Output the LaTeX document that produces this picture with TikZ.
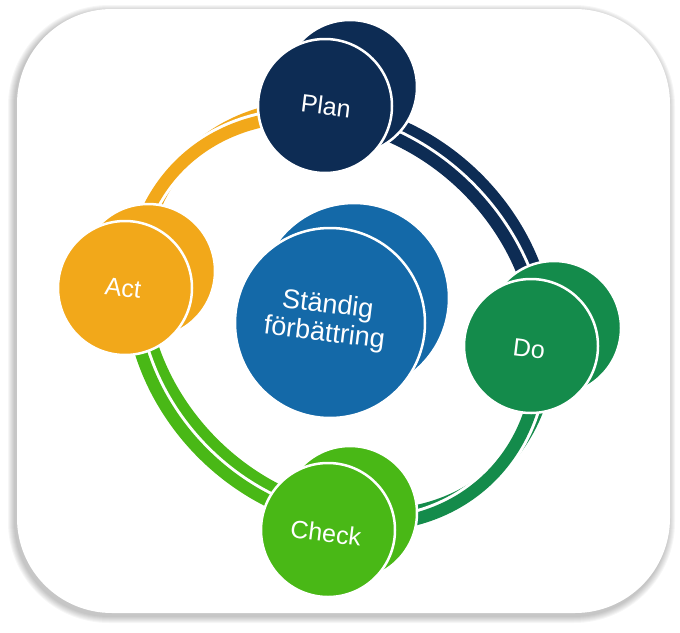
\documentclass[tikz,border=0pt]{standalone}
\usepackage{fontspec}
\setmainfont{Liberation Sans}
\definecolor{cnavy}{HTML}{0D2C54}
\definecolor{cdgreen}{HTML}{148B4B}
\definecolor{clgreen}{HTML}{49B816}
\definecolor{corange}{HTML}{F2A81A}
\definecolor{cblue}{HTML}{1469A8}
\begin{document}
\begin{tikzpicture}[x=1pt,y=-1pt,
  declare function={ringx(\t)=335+220*cos(\t)*0.7071+187*sin(\t)*0.7071;
                    ringy(\t)=321+220*cos(\t)*0.7071-187*sin(\t)*0.7071;},
  band/.style={line width=12.5pt},
  bandedge/.style={white, line width=18.5pt},
  face/.style={draw=white, line width=2.5pt},
  lbl/.style={text=white, inner sep=0pt, rotate=-7, font=\fontsize{25}{25}\selectfont}
]
\useasboundingbox (0,0) rectangle (680,632);
% card with soft shadow
\foreach \k [evaluate=\k as \r using 94+\k] in {1,...,7}
  \fill[black, opacity=0.035, rounded corners=\r pt] (15-\k,12-\k) rectangle (668+\k,616+\k);
\fill[white, rounded corners=95pt] (17,9) rectangle (670,613);
% back ring (shifted up-right)
\foreach \c/\a/\b in {cnavy/38/135, cdgreen/-45/38, clgreen/-142/-45, corange/135/218}
  \draw[\c, band] plot[domain=\a:\b, samples=60, smooth] ({ringx(\x)+10},{ringy(\x)-10});
% front ring
\foreach \c/\a/\b in {cnavy/38/135, cdgreen/-45/38, clgreen/-142/-45, corange/135/218}{
  \draw[bandedge] plot[domain=\a:\b, samples=60, smooth] ({ringx(\x)},{ringy(\x)});
  \draw[\c, band] plot[domain=\a:\b, samples=60, smooth] ({ringx(\x)},{ringy(\x)});
}
% disks: back then front
\fill[cnavy, face] (350,87) circle (67);
\fill[cnavy, face] (325,106) circle (67);
\fill[cdgreen, face] (554,328) circle (67);
\fill[cdgreen, face] (531,346) circle (67);
\fill[clgreen, face] (350,513) circle (67);
\fill[clgreen, face] (328,530) circle (67);
\fill[corange, face] (148,271) circle (67);
\fill[corange, face] (125,288) circle (67);
\fill[cblue, face] (354,298) circle (95);
\fill[cblue, face] (330,323) circle (95);
% labels
\node[lbl] (plan) at (326,106) {Plan};
\node[lbl] (do) at (529,349) {Do};
\node[lbl] (check) at (326,533) {Check};
\node[lbl] (act) at (123,288) {Act};
\node[lbl, align=center, font=\fontsize{27}{28.5}\selectfont] (core) at (326,320) {Ständig\\förbättring};
\end{tikzpicture}
\end{document}
